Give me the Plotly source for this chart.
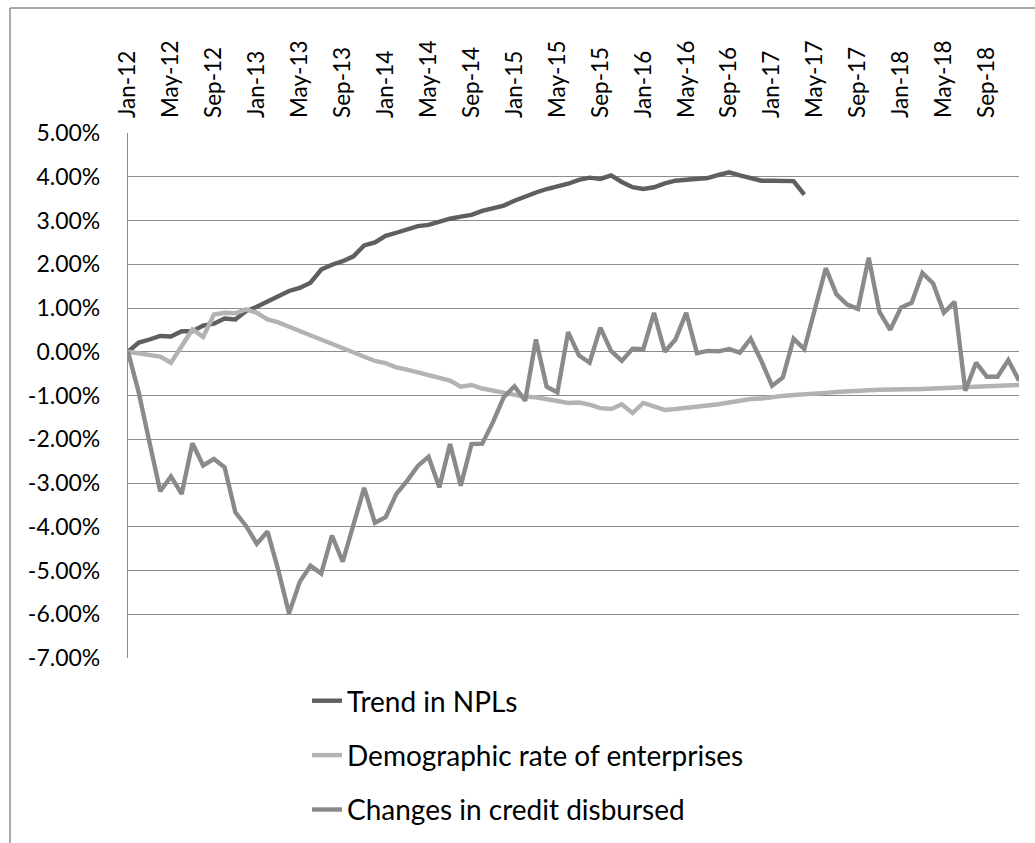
import plotly.graph_objects as go

# Monthly categories Jan-12 .. Dec-18
months = ["Jan", "Feb", "Mar", "Apr", "May", "Jun", "Jul", "Aug", "Sep", "Oct", "Nov", "Dec"]
categories = [f"{m}-{y}" for y in range(12, 19) for m in months]

# Series values (percent)
trend_npls = [
    0.00, 0.21, 0.28, 0.36, 0.35, 0.47, 0.47, 0.60, 0.64, 0.76, 0.74, 0.93,
    1.03, 1.16, 1.27, 1.39, 1.46, 1.58, 1.88, 1.99, 2.07, 2.18, 2.43, 2.50,
    2.65, 2.72, 2.79, 2.87, 2.90, 2.98, 3.04, 3.09, 3.13, 3.22, 3.27, 3.34,
    3.45, 3.55, 3.64, 3.72, 3.77, 3.84, 3.93, 3.98, 3.95, 4.03, 3.88, 3.76,
    3.72, 3.76, 3.85, 3.91, 3.93, 3.95, 3.97, 4.04, 4.10, 4.03, 3.97, 3.91,
    3.91, 3.91, 3.90, 3.59,
]

demographic_rate = [
    0.00, -0.04, -0.06, -0.11, -0.25, 0.13, 0.51, 0.34, 0.85, 0.89, 0.88, 0.97,
    0.89, 0.74, 0.67, 0.57, 0.47, 0.38, 0.28, 0.17, 0.09, -0.02, -0.11, -0.21,
    -0.26, -0.36, -0.41, -0.47, -0.54, -0.59, -0.66, -0.80, -0.76, -0.84, -0.89, -0.93,
    -0.98, -1.03, -1.04, -1.08, -1.14, -1.17, -1.16, -1.21, -1.29, -1.31, -1.20, -1.40,
    -1.17, -1.25, -1.33, -1.31, -1.29, -1.25, -1.23, -1.20, -1.16, -1.12, -1.08, -1.07,
    -1.03, -1.01, -0.99, -0.98, -0.96, -0.94, -0.92, -0.90, -0.89, -0.88, -0.87, -0.87,
    -0.86, -0.85, -0.85, -0.84, -0.83, -0.82, -0.82, -0.81, -0.80, -0.79, -0.78, -0.76,
]

credit_disbursed = [
    0.00, -0.93, -2.07, -3.19, -2.85, -3.25, -2.09, -2.60, -2.45, -2.64, -3.67, -3.98,
    -4.39, -4.11, -4.99, -5.98, -5.26, -4.89, -5.07, -4.20, -4.80, -3.91, -3.11, -3.91,
    -3.78, -3.25, -2.95, -2.61, -2.40, -3.10, -2.11, -3.06, -2.11, -2.10, -1.61, -1.04,
    -0.79, -1.12, 0.28, -0.80, -0.93, 0.45, -0.08, -0.25, 0.55, 0.02, -0.21, 0.07,
    0.06, 0.89, 0.00, 0.28, 0.89, -0.03, 0.02, 0.01, 0.06, -0.02, 0.30, -0.21,
    -0.78, -0.59, 0.30, 0.06, 0.97, 1.91, 1.31, 1.08, 0.98, 2.15, 0.91, 0.50,
    1.01, 1.12, 1.80, 1.56, 0.89, 1.14, -0.89, -0.25, -0.57, -0.57, -0.19, -0.66,
]

tick_labels = categories[::4]
y_ticks = list(range(-7, 6))

FONT = "Lato, 'Open Sans', sans-serif"

# plot-area geometry in pixels
L, R, T, B = 128, 16, 133, 185
PW, PH = 1035 - L - R, 843 - T - B

fig = go.Figure()
series = [
    ("Trend in NPLs", trend_npls, "#5f5f5f"),
    ("Demographic rate of enterprises", demographic_rate, "#b3b3b3"),
    ("Changes in credit disbursed", credit_disbursed, "#8a8a8a"),
]
for idx, (name, vals, color) in enumerate(series):
    fig.add_trace(go.Scatter(
        x=list(range(len(vals))), y=vals, mode="lines", name=name,
        line=dict(color=color, width=4.4), legendgroup=f"g{idx}",
    ))

fig.update_layout(
    width=1035, height=843,
    margin=dict(l=L, r=R, t=T, b=B, autoexpand=False),
    paper_bgcolor="white", plot_bgcolor="white",
    font=dict(family=FONT, color="#000000", size=22),
    showlegend=True,
    legend=dict(
        orientation="v", x=(307 - L) / PW, xanchor="left",
        y=-(676 - (843 - B)) / PH, yanchor="top",
        font=dict(size=28, family=FONT), tracegroupgap=15,
        traceorder="grouped", bgcolor="rgba(0,0,0,0)",
    ),
    xaxis=dict(
        range=[0, 83], side="top",
        tickmode="array", tickvals=list(range(0, 84, 4)), ticktext=tick_labels,
        tickangle=-90, showgrid=False, zeroline=False, showline=False,
        ticks="", ticklabelstandoff=14, automargin=False,
        tickfont=dict(size=22.5, family=FONT),
    ),
    yaxis=dict(
        range=[-7, 5], tickmode="array", tickvals=y_ticks,
        ticktext=[f"{v:.2f}%" for v in y_ticks],
        showgrid=True, gridcolor="#8c8c8c", gridwidth=1.2,
        zeroline=False, showline=True, linecolor="#8c8c8c", linewidth=1.2,
        ticks="", ticklabelstandoff=22, automargin=False,
        tickfont=dict(size=23, family=FONT),
    ),
    shapes=[
        # outer chart frame
        dict(type="line", xref="paper", yref="paper",
             x0=(10 - L) / PW, x1=(1040 - L) / PW,
             y0=(PH + T - 8) / PH, y1=(PH + T - 8) / PH,
             line=dict(color="#8c8c8c", width=1.5)),
        dict(type="line", xref="paper", yref="paper",
             x0=(10 - L) / PW, x1=(10 - L) / PW,
             y0=(PH + T - 8) / PH, y1=-(B + 10) / PH,
             line=dict(color="#8c8c8c", width=1.5)),
    ],
)

fig.write_html("out.html")
